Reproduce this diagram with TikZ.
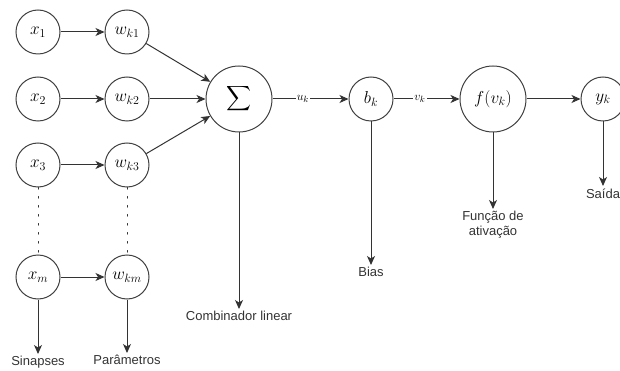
\documentclass[tikz,border=0pt]{standalone}
\usepackage{amsmath}
\usepackage{fontspec}
\setmainfont{Liberation Sans}
\usetikzlibrary{arrows.meta}

\tikzset{
  neuron/.style={circle, draw=black!75, minimum size=44pt, inner sep=0pt, font=\fontsize{18}{20}\selectfont},
  somador/.style={neuron, minimum size=66pt},
  rotulo/.style={fill=white, inner sep=1pt, font=\fontsize{13}{15}\selectfont},
  legenda/.style={anchor=north, inner sep=2pt, text=black!80, font=\fontsize{13}{15}\selectfont},
  pontos/.style={dash pattern=on 1.6pt off 7.4pt, line cap=round},
}

\begin{document}
\begin{tikzpicture}[x=1pt, y=-1pt, line width=1pt, draw=black!80, >={Stealth[length=9pt, width=8pt, inset=2.5pt]}]
\useasboundingbox (0,0) rectangle (620,371);
% entradas e pesos
\foreach \i/\y in {1/32, 2/99, 3/165} {
 \node[neuron] (x\i) at (38,\y) {$x_\i$};
 \node[neuron] (w\i) at (127,\y) {$w_{k\i}$};
 \draw[->] (x\i) -- (w\i);
}
\node[neuron] (xm) at (38,277) {$x_m$};
\node[neuron] (wm) at (127,277) {$w_{km}$};
\draw[->] (xm) -- (wm);
\draw[pontos] (x3) -- (xm);
\draw[pontos] (w3) -- (wm);

% somador, bias, ativacao e saida
\node[somador] (soma) at (239,99) {$\displaystyle\sum$};
\node[neuron] (bk) at (371,99) {$b_k$};
\node[somador] (fv) at (493,99) {$f(v_k)$};
\node[neuron] (yk) at (603,99) {$y_k$};
\foreach \i in {1,2,3} \draw[->] (w\i) -- (soma);
\draw[->] (soma) -- node[rotulo, pos=.4] {$u_k$} (bk);
\draw[->] (bk) -- node[rotulo, pos=.4] {$v_k$} (fv);
\draw[->] (fv) -- (yk);

% legendas
\node[legenda] (sin) at (38,354) {Sinapses};
\node[legenda] (par) at (127,353) {Parâmetros};
\node[legenda] (comb) at (239,309) {Combinador linear};
\node[legenda] (bias) at (371,265) {Bias};
\node[legenda, align=center] (fat) at (493,209) {Função de\\ativação};
\node[legenda] (sai) at (603,186) {Saída};
\draw[->] (xm) -- (sin);
\draw[->] (wm) -- (par);
\draw[->] (soma) -- (comb);
\draw[->] (bk) -- (bias);
\draw[->] (fv) -- (fat);
\draw[->] (yk) -- (sai);
\end{tikzpicture}
\end{document}
